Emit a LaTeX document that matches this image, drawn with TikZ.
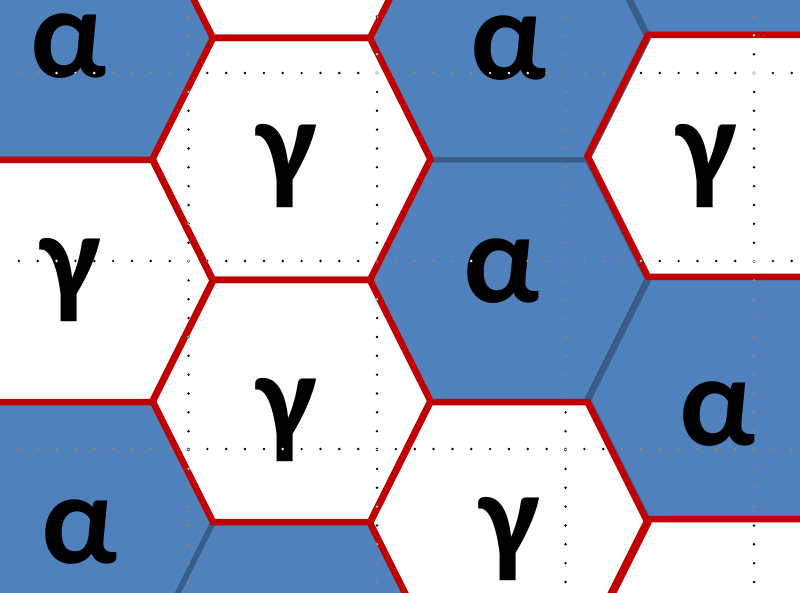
\documentclass[tikz,border=0pt]{standalone}
\usepackage{fontspec}
\setmainfont{Carlito}
\definecolor{afill}{HTML}{4F81BD}
\definecolor{aline}{HTML}{385D8A}
\definecolor{gline}{HTML}{C00000}
\newcommand\hexat[2]{(#1-78.5,#2-121) -- (#1+78.5,#2-121) -- (#1+139,#2) -- (#1+78.5,#2+121) -- (#1-78.5,#2+121) -- (#1-139,#2) -- cycle}
\tikzset{
  ahex/.style={fill=afill},
  ghex/.style={fill=white},
  aedge/.style={draw=aline, line width=5pt},
  gedge/.style={draw=gline, line width=6.5pt},
  phase/.style={anchor=base, inner sep=0pt, text height=62pt, text depth=2pt, font=\fontsize{129}{129}\selectfont\bfseries},
  gphase/.style={phase, text depth=28pt},
  griddots/.style={draw=white, line width=2.7pt, line cap=round, dash pattern=on 0pt off 18.85pt}
}
\begin{document}
\begin{tikzpicture}[x=1pt,y=-1pt]
\useasboundingbox (0,0) rectangle (800,593);
\fill[white] (0,0) rectangle (800,593);
% fills
\foreach \cx/\cy in {74/39, 74/523, 291.5/643, 509/39, 509/281, 726.5/-86, 726.5/398}
  \path[ahex] \hexat{\cx}{\cy};
\foreach \cx/\cy in {74/281, 291.5/-83, 291.5/159, 291.5/401, 509/523, 726.5/156, 726.5/640}
  \path[ghex] \hexat{\cx}{\cy};
% outlines
\foreach \cx/\cy in {74/39, 74/523, 291.5/643, 509/39, 509/281, 726.5/-86, 726.5/398}
  \path[aedge] \hexat{\cx}{\cy};
\foreach \cx/\cy in {74/281, 291.5/-83, 291.5/159, 291.5/401, 509/523, 726.5/156, 726.5/640}
  \path[gedge] \hexat{\cx}{\cy};
% labels
\node[phase] (a1) at (69,78) {α};
\node[gphase] (g1) at (287,188) {γ};
\node[gphase] (g2) at (71,302) {γ};
\node[phase] (a2) at (509,80) {α};
\node[gphase] (g3) at (707,188) {γ};
\node[phase] (a3) at (502,303) {α};
\node[gphase] (g4) at (287,441) {γ};
\node[phase] (a4) at (80,563) {α};
\node[phase] (a5) at (718,445) {α};
\node[gphase] (g5) at (510,560) {γ};
% dotted grid
\begin{scope}[blend mode=difference]
\foreach \gy in {73,261,449}
  \draw[griddots] (18.85,\gy) -- (805,\gy);
\foreach \gx in {188.5,377,565.5,754}
  \draw[griddots] (\gx,16.5) -- (\gx,600);
\end{scope}
\end{tikzpicture}
\end{document}
